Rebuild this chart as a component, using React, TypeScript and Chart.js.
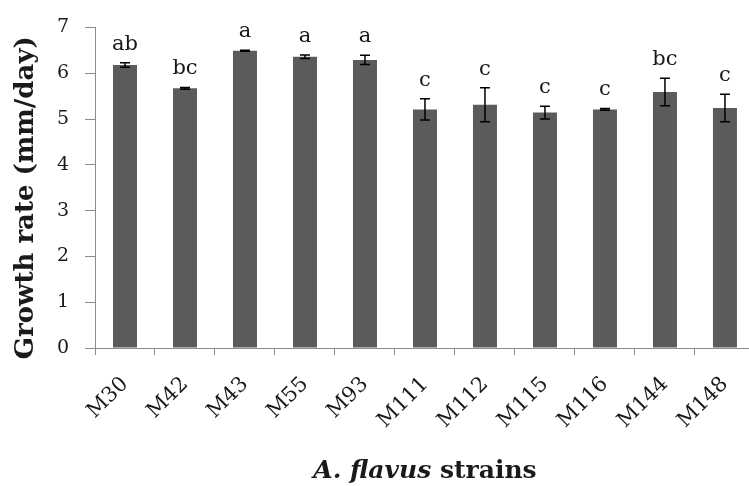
import React, { useEffect, useRef } from "react";
import { Chart, registerables } from "chart.js";

Chart.register(...registerables);

const strains = ["M30", "M42", "M43", "M55", "M93", "M111", "M112", "M115", "M116", "M144", "M148"];
const growthRate = [6.18, 5.67, 6.49, 6.36, 6.29, 5.21, 5.31, 5.14, 5.21, 5.59, 5.24];
const errors = [0.05, 0.02, 0.01, 0.04, 0.1, 0.23, 0.37, 0.14, 0.02, 0.3, 0.3];
const letters = ["ab", "bc", "a", "a", "a", "c", "c", "c", "c", "bc", "c"];
const yMin = 0;
const yMax = 7;
const yStep = 1;
const yTitle = "Growth rate (mm/day)";
const xTitleItalic = "A. flavus";
const xTitleNormal = " strains";

const SERIF = '"DejaVu Serif", serif';
const AXIS = "#8c8c8c";
const TEXT = "#1a1a1a";

const annotations = {
  id: "annotations",
  afterDatasetsDraw(chart: any) {
    const { ctx, scales, chartArea } = chart;
    const y = scales.y;
    const meta = chart.getDatasetMeta(0);
    ctx.save();
    ctx.strokeStyle = "#000";
    ctx.lineWidth = 1.5;
    meta.data.forEach((bar: any, i: number) => {
      const cx = bar.x;
      const top = y.getPixelForValue(growthRate[i] + errors[i]);
      const bot = y.getPixelForValue(growthRate[i] - errors[i]);
      ctx.beginPath();
      ctx.moveTo(cx, top);
      ctx.lineTo(cx, bot);
      ctx.moveTo(cx - 5, top);
      ctx.lineTo(cx + 5, top);
      ctx.moveTo(cx - 5, bot);
      ctx.lineTo(cx + 5, bot);
      ctx.stroke();
      ctx.fillStyle = TEXT;
      ctx.font = `21px ${SERIF}`;
      ctx.textAlign = "center";
      ctx.textBaseline = "alphabetic";
      ctx.fillText(letters[i], cx, top - 13);
    });

    // y title
    ctx.save();
    ctx.translate(26, (chartArea.top + chartArea.bottom) / 2 + 10);
    ctx.rotate(-Math.PI / 2);
    ctx.font = `bold 26px ${SERIF}`;
    ctx.fillStyle = TEXT;
    ctx.textAlign = "center";
    ctx.textBaseline = "middle";
    ctx.fillText(yTitle, 0, 0);
    ctx.restore();

    // x title
    const fItal = `italic bold 25px ${SERIF}`;
    const fNorm = `bold 25px ${SERIF}`;
    ctx.font = fItal;
    const w1 = ctx.measureText(xTitleItalic).width;
    ctx.font = fNorm;
    const w2 = ctx.measureText(xTitleNormal).width;
    const cxT = (chartArea.left + chartArea.right) / 2;
    const start = cxT - (w1 + w2) / 2;
    const base = 478;
    ctx.textAlign = "left";
    ctx.textBaseline = "alphabetic";
    ctx.fillStyle = TEXT;
    ctx.font = fItal;
    ctx.fillText(xTitleItalic, start, base);
    ctx.font = fNorm;
    ctx.fillText(xTitleNormal, start + w1, base);
    ctx.restore();
  },
};

export default function App() {
  const ref = useRef<HTMLCanvasElement>(null);
  useEffect(() => {
    if (!ref.current) return;
    const chart = new Chart(ref.current, {
      type: "bar",
      data: {
        labels: strains,
        datasets: [
          {
            data: growthRate,
            backgroundColor: "#5b5b5b",
            borderWidth: 0,
            barPercentage: 0.4,
            categoryPercentage: 1,
          },
        ],
      },
      options: {
        responsive: false,
        animation: false,
        devicePixelRatio: 1,
        layout: { padding: { top: 24, left: 0, right: 5, bottom: 0 } },
        plugins: { legend: { display: false }, tooltip: { enabled: false } },
        scales: {
          x: {
            grid: { display: true, drawOnChartArea: false, drawTicks: true, tickLength: 7, color: AXIS, offset: true },
            border: { color: AXIS, width: 1 },
            ticks: { font: { family: SERIF, size: 21 }, color: TEXT, minRotation: 45, maxRotation: 45, padding: 17, autoSkip: false },
            afterFit: (s: any) => {
              s.height = 138;
            },
          },
          y: {
            min: yMin,
            max: yMax,
            ticks: { stepSize: yStep, font: { family: SERIF, size: 19 }, color: TEXT, padding: 16 },
            grid: { drawOnChartArea: false, tickLength: 10, color: AXIS },
            border: { color: AXIS, width: 1 },
            afterFit: (s: any) => {
              s.width = 95;
            },
          },
        },
      },
      plugins: [annotations],
    });
    return () => chart.destroy();
  }, []);
  return (
    <div style={{ position: "fixed", left: 0, top: 0, width: 749, height: 486, overflow: "hidden", background: "#fff" }}>
      <canvas ref={ref} width={760} height={486} style={{ width: 760, height: 486, display: "block" }} />
    </div>
  );
}
